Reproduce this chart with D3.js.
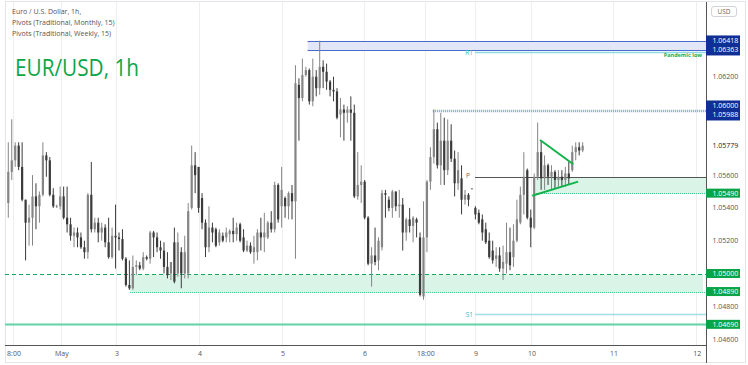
<!DOCTYPE html>
<html><head><meta charset="utf-8">
<script src="https://cdn.jsdelivr.net/npm/d3@7"></script>
<style>body{margin:0;background:#fff}svg{display:block}</style>
</head><body>
<svg id="c" width="748" height="365"></svg>
<script>
const opens=[1.0543,1.0562,1.0569,1.0578,1.0565,1.0545,1.0531,1.0534,1.0547,1.0541,
1.0548,1.0572,1.0569,1.0548,1.0541,1.0541,1.0547,1.0534,1.0530,1.0523,
1.0525,1.0522,1.0516,1.0513,1.0548,1.0527,1.0531,1.0525,1.0528,1.0519,
1.0510,1.0523,1.0522,1.0521,1.0509,1.0493,1.0491,1.0504,1.0505,1.0503,
1.0510,1.0509,1.0525,1.0522,1.0516,1.0514,1.0504,1.0500,1.0519,1.0500,
1.0513,1.0500,1.0500,1.0540,1.0566,1.0565,1.0546,1.0531,1.0516,1.0528,
1.0527,1.0519,1.0523,1.0522,1.0524,1.0526,1.0524,1.0530,1.0522,1.0514,
1.0517,1.0513,1.0513,1.0525,1.0522,1.0522,1.0531,1.0527,1.0554,1.0541,
1.0546,1.0541,1.0549,1.0544,1.0615,1.0607,1.0621,1.0624,1.0605,1.0620,
1.0613,1.0626,1.0623,1.0617,1.0612,1.0611,1.0597,1.0600,1.0598,1.0600,
1.0598,1.0547,1.0554,1.0556,1.0534,1.0506,1.0511,1.0508,1.0516,1.0549,
1.0545,1.0540,1.0550,1.0541,1.0542,1.0525,1.0533,1.0529,1.0533,1.0522,
1.0486,1.0522,1.0556,1.0571,1.0588,1.0566,1.0581,1.0563,1.0581,1.0570,
1.0555,1.0558,1.0545,1.0548,1.0552,1.0540,1.0537,1.0533,1.0527,1.0520,
1.0514,1.0509,1.0511,1.0503,1.0506,1.0513,1.0510,1.0520,1.0531,1.0548,
1.0563,1.0534,1.0528,1.0559,1.0574,1.0558,1.0566,1.0559,1.0562,1.0557,
1.0559,1.0557,1.0561,1.0563,1.0574,1.0577,1.0575];
const highs=[1.0580,1.0594,1.0580,1.0580,1.0580,1.0545,1.0542,1.0560,1.0555,1.0550,
1.0580,1.0574,1.0571,1.0552,1.0542,1.0553,1.0553,1.0553,1.0534,1.0528,
1.0528,1.0525,1.0520,1.0549,1.0568,1.0534,1.0534,1.0531,1.0530,1.0534,
1.0528,1.0542,1.0525,1.0527,1.0510,1.0508,1.0511,1.0508,1.0507,1.0513,
1.0511,1.0526,1.0526,1.0525,1.0520,1.0519,1.0513,1.0507,1.0528,1.0525,
1.0516,1.0523,1.0543,1.0578,1.0574,1.0565,1.0549,1.0533,1.0541,1.0531,
1.0528,1.0527,1.0525,1.0528,1.0527,1.0534,1.0531,1.0531,1.0527,1.0520,
1.0519,1.0523,1.0527,1.0534,1.0537,1.0532,1.0538,1.0556,1.0555,1.0565,
1.0547,1.0550,1.0554,1.0627,1.0619,1.0631,1.0626,1.0625,1.0631,1.0624,
1.0642,1.0630,1.0628,1.0618,1.0620,1.0613,1.0607,1.0603,1.0602,1.0608,
1.0603,1.0574,1.0566,1.0557,1.0535,1.0516,1.0528,1.0522,1.0551,1.0551,
1.0547,1.0551,1.0550,1.0551,1.0546,1.0534,1.0540,1.0535,1.0534,1.0525,
1.0544,1.0557,1.0577,1.0600,1.0592,1.0598,1.0595,1.0594,1.0591,1.0575,
1.0574,1.0566,1.0551,1.0549,1.0552,1.0541,1.0539,1.0536,1.0531,1.0525,
1.0520,1.0516,1.0516,1.0517,1.0531,1.0528,1.0530,1.0545,1.0553,1.0574,
1.0564,1.0539,1.0561,1.0592,1.0581,1.0572,1.0567,1.0566,1.0563,1.0563,
1.0563,1.0565,1.0568,1.0578,1.0580,1.0580,1.0580];
const lows=[1.0534,1.0557,1.0565,1.0563,1.0544,1.0508,1.0517,1.0517,1.0527,1.0531,
1.0547,1.0559,1.0547,1.0540,1.0540,1.0539,1.0533,1.0525,1.0520,1.0516,
1.0516,1.0515,1.0509,1.0509,1.0525,1.0525,1.0519,1.0520,1.0516,1.0509,
1.0509,1.0503,1.0514,1.0508,1.0492,1.0490,1.0490,1.0499,1.0502,1.0502,
1.0508,1.0506,1.0510,1.0513,1.0509,1.0500,1.0497,1.0496,1.0494,1.0498,
1.0491,1.0497,1.0497,1.0539,1.0549,1.0537,1.0527,1.0510,1.0513,1.0519,
1.0516,1.0517,1.0519,1.0519,1.0519,1.0519,1.0520,1.0519,1.0513,1.0513,
1.0512,1.0506,1.0508,1.0514,1.0513,1.0521,1.0525,1.0525,1.0531,1.0528,
1.0534,1.0533,1.0533,1.0509,1.0581,1.0605,1.0620,1.0603,1.0602,1.0608,
1.0609,1.0613,1.0612,1.0608,1.0605,1.0594,1.0583,1.0581,1.0592,1.0581,
1.0546,1.0545,1.0543,1.0533,1.0505,1.0492,1.0505,1.0502,1.0514,1.0534,
1.0538,1.0534,1.0538,1.0534,1.0514,1.0520,1.0525,1.0519,1.0522,1.0486,
1.0484,1.0513,1.0551,1.0567,1.0564,1.0554,1.0554,1.0560,1.0568,1.0547,
1.0551,1.0536,1.0542,1.0541,1.0551,1.0533,1.0530,1.0520,1.0518,1.0509,
1.0506,1.0504,1.0501,1.0496,1.0500,1.0502,1.0504,1.0519,1.0530,1.0536,
1.0533,1.0516,1.0527,1.0557,1.0551,1.0551,1.0554,1.0551,1.0552,1.0552,
1.0553,1.0553,1.0554,1.0562,1.0569,1.0572,1.0574];
const closes=[1.0562,1.0569,1.0578,1.0565,1.0545,1.0531,1.0534,1.0547,1.0541,1.0548,
1.0572,1.0569,1.0548,1.0541,1.0541,1.0547,1.0534,1.0530,1.0523,1.0525,
1.0522,1.0516,1.0513,1.0548,1.0527,1.0531,1.0525,1.0528,1.0519,1.0510,
1.0523,1.0522,1.0521,1.0509,1.0493,1.0491,1.0504,1.0505,1.0503,1.0510,
1.0509,1.0525,1.0522,1.0516,1.0514,1.0504,1.0499,1.0507,1.0495,1.0519,
1.0500,1.0513,1.0538,1.0566,1.0560,1.0540,1.0531,1.0516,1.0528,1.0525,
1.0517,1.0525,1.0520,1.0525,1.0526,1.0524,1.0528,1.0520,1.0514,1.0517,
1.0513,1.0516,1.0525,1.0522,1.0525,1.0531,1.0527,1.0554,1.0533,1.0551,
1.0541,1.0549,1.0544,1.0616,1.0607,1.0621,1.0624,1.0605,1.0620,1.0613,
1.0626,1.0623,1.0617,1.0612,1.0611,1.0595,1.0600,1.0598,1.0600,1.0598,
1.0547,1.0554,1.0556,1.0534,1.0506,1.0511,1.0507,1.0520,1.0549,1.0548,
1.0540,1.0550,1.0541,1.0542,1.0525,1.0533,1.0529,1.0534,1.0531,1.0487,
1.0522,1.0556,1.0571,1.0588,1.0566,1.0581,1.0563,1.0581,1.0570,1.0555,
1.0563,1.0545,1.0548,1.0545,1.0552,1.0536,1.0531,1.0525,1.0519,1.0510,
1.0508,1.0511,1.0503,1.0507,1.0513,1.0505,1.0520,1.0533,1.0548,1.0559,
1.0534,1.0528,1.0559,1.0574,1.0558,1.0566,1.0559,1.0562,1.0557,1.0559,
1.0557,1.0561,1.0558,1.0574,1.0577,1.0575,1.05779];

const timeTickIdx=[1.36,15.2,31.1,55.1,79.1,102.8,120.4,134.9,151.1,174.8,198.8];
const timeTickLabels=["8:00","May","3","4","5","6","18:00","9","10","11","12"];
const priceTicks=[1.046,1.048,1.052,1.054,1.056,1.062];

const blueZone=[1.06418,1.06363], blueZoneStart=86.5;
const level1060=[1.06000,1.05988], level1060Start=122.7;
const weekStart=134.9;
const pivotP=1.05587, pivotR1=1.0635, pivotS1=1.04753;
const greenZoneUpper=[1.05587,1.05490], greenZoneUpperStart=152.5;
const greenZoneLower=[1.05000,1.04890], greenZoneLowerStart=35.2;
const level1047=1.04690;
const triUpper=[[153.7,1.05814],[163.3,1.05666]];
const triLower=[[151.4,1.05474],[164.7,1.05560]];
const lastPrice=1.05779;

const svg=d3.select("#c");
const L=5,R=706,T=2,B=345.5;
const x=d3.scaleLinear().domain([-0.95,201.65]).range([L,R]);
const y=d3.scaleLinear().domain([1.046,1.066]).range([339.1,11.1]);
const yc=p=>Math.round(y(p))+0.5;
const fmt=d3.format(".5f");
const FONT="'Open Sans','DejaVu Sans',sans-serif";

svg.append("rect").attr("x",5.5).attr("y",1.5).attr("width",740).attr("height",361).attr("fill","#fff").attr("stroke","#e3e5ea");

// vertical grid
svg.append("g").selectAll("line").data(timeTickIdx).join("line")
 .attr("x1",d=>Math.round(x(d))+0.5).attr("x2",d=>Math.round(x(d))+0.5).attr("y1",T).attr("y2",B)
 .attr("stroke","#eceef2").attr("stroke-width",1);

const plot=svg.append("g");
function hline(p,x0,opts){
 const l=plot.append("line").attr("x1",x0).attr("x2",R).attr("y1",yc(p)).attr("y2",yc(p));
 Object.entries(opts).forEach(([k,v])=>l.attr(k,v));
 return l;
}
// blue zone
plot.append("rect").attr("x",x(blueZoneStart)).attr("width",R-x(blueZoneStart))
 .attr("y",yc(blueZone[0])).attr("height",yc(blueZone[1])-yc(blueZone[0])).attr("fill","#e1e7f6");
blueZone.forEach(p=>hline(p,x(blueZoneStart),{stroke:"#4a6bcb","stroke-width":1}));
// R1
hline(pivotR1,x(weekStart),{stroke:"#8ed9e2","stroke-width":1.5});
plot.append("text").attr("x",x(weekStart)-2).attr("y",y(pivotR1)+2.5).attr("text-anchor","end").attr("font-size",6.5).attr("font-family",FONT).attr("fill","#2bbccc").text("R1");
plot.append("text").attr("x",702).attr("y",y(pivotR1)+4.5).attr("text-anchor","end").attr("font-size",5.5).attr("font-weight","bold").attr("font-family",FONT).attr("fill","#16b04e").text("Pandemic low");
// 1.0600 dotted
level1060.forEach(p=>hline(p,x(level1060Start),{stroke:"#8d9fe2","stroke-width":1.3,"stroke-dasharray":"1,1"}));
// green zones
plot.append("rect").attr("x",x(greenZoneUpperStart)).attr("width",R-x(greenZoneUpperStart))
 .attr("y",yc(greenZoneUpper[0])).attr("height",yc(greenZoneUpper[1])-yc(greenZoneUpper[0])).attr("fill","#daf4e8");
hline(greenZoneUpper[1],x(greenZoneUpperStart),{stroke:"#3cbf85","stroke-dasharray":"1,1"});
plot.append("rect").attr("x",x(greenZoneLowerStart)).attr("width",703-x(greenZoneLowerStart))
 .attr("y",yc(greenZoneLower[0])).attr("height",yc(greenZoneLower[1])-yc(greenZoneLower[0])).attr("fill","#daf4e8");
hline(greenZoneLower[0],L,{stroke:"#14a85e","stroke-width":1.2,"stroke-dasharray":"4,3"});
hline(greenZoneLower[1],x(greenZoneLowerStart),{stroke:"#3cbf85","stroke-dasharray":"1,1"});
// P
hline(pivotP,x(weekStart),{stroke:"#555","stroke-width":1});
plot.append("text").attr("x",x(weekStart)-5).attr("y",y(pivotP)+1).attr("text-anchor","end").attr("font-size",6.5).attr("font-family",FONT).attr("fill","#666").text("P");
// S1
hline(pivotS1,x(weekStart),{stroke:"#9fe0e6","stroke-width":1.5});
plot.append("text").attr("x",x(weekStart)-2).attr("y",y(pivotS1)+2.5).attr("text-anchor","end").attr("font-size",6.5).attr("font-family",FONT).attr("fill","#2bbccc").text("S1");
// 1.0469
hline(level1047,L,{stroke:"#62d3a6","stroke-width":2.2});

// candles
const data=d3.range(opens.length).map(i=>({i,o:opens[i],h:highs[i],l:lows[i],c:closes[i]}));
const cg=plot.append("g");
const col=d=>d.c>=d.o?"#858585":"#3b3b3b";
cg.selectAll("line").data(data).join("line")
 .attr("x1",d=>x(d.i)).attr("x2",d=>x(d.i)).attr("y1",d=>y(d.h)).attr("y2",d=>y(d.l))
 .attr("stroke",col).attr("stroke-width",1);
cg.selectAll("rect").data(data).join("rect")
 .attr("x",d=>x(d.i)-1.1).attr("width",2.2)
 .attr("y",d=>y(Math.max(d.o,d.c))).attr("height",d=>Math.max(0.8,Math.abs(y(d.o)-y(d.c))))
 .attr("fill",col);

// triangle
[triUpper,triLower].forEach(t=>plot.append("line").attr("x1",x(t[0][0])).attr("y1",y(t[0][1])).attr("x2",x(t[1][0])).attr("y2",y(t[1][1])).attr("stroke","#14b24a").attr("stroke-width",2));

// axes lines
svg.append("line").attr("x1",L).attr("x2",R).attr("y1",B).attr("y2",B).attr("stroke","#555");
svg.append("line").attr("x1",R+0.5).attr("x2",R+0.5).attr("y1",T).attr("y2",363).attr("stroke","#555");

// time labels
svg.append("g").selectAll("text").data(timeTickIdx).join("text")
 .attr("x",d=>x(d)+1).attr("y",356).attr("text-anchor","middle").attr("font-size",7).attr("font-family",FONT).attr("fill","#555")
 .text((d,i)=>timeTickLabels[i]);

// price tick labels
svg.append("g").selectAll("text").data(priceTicks).join("text")
 .attr("x",712.5).attr("y",d=>y(d)+2.5).attr("font-size",7).attr("font-family",FONT).attr("fill","#555").text(d=>fmt(d));

// last price label
svg.append("rect").attr("x",707).attr("y",y(lastPrice)-5).attr("width",36).attr("height",10).attr("fill","#fff");
svg.append("text").attr("x",712.5).attr("y",y(lastPrice)+2.5).attr("font-size",7).attr("font-family",FONT).attr("fill","#222").text(fmt(lastPrice));

// navy labels
function navy(pair){
 const ym=(y(pair[0])+y(pair[1]))/2;
 svg.append("rect").attr("x",706).attr("y",ym-10).attr("width",34).attr("height",20).attr("fill","#0f2f96");
 svg.append("text").attr("x",712.5).attr("y",ym-2.5).attr("font-size",7).attr("font-family",FONT).attr("fill","#fff").text(fmt(pair[0]));
 svg.append("text").attr("x",712.5).attr("y",ym+7).attr("font-size",7).attr("font-family",FONT).attr("fill","#fff").text(fmt(pair[1]));
}
navy(blueZone); navy(level1060);
function green(p){
 svg.append("rect").attr("x",706).attr("y",y(p)-4.5).attr("width",34).attr("height",9).attr("fill","#08a448");
 svg.append("text").attr("x",712.5).attr("y",y(p)+2.5).attr("font-size",7).attr("font-family",FONT).attr("fill","#fff").text(fmt(p));
}
[greenZoneUpper[1],greenZoneLower[0],greenZoneLower[1],level1047].forEach(green);

// USD box
svg.append("rect").attr("x",711.5).attr("y",6.5).attr("width",25).attr("height",10).attr("rx",2.5).attr("fill","#fff").attr("stroke","#d0d3da");
svg.append("text").attr("x",724).attr("y",14).attr("text-anchor","middle").attr("font-size",6.5).attr("font-family",FONT).attr("fill","#666").text("USD");

// header
const hdr=["Euro / U.S. Dollar, 1h,","Pivots (Traditional, Monthly, 15)","Pivots (Traditional, Weekly, 15)"];
svg.append("g").selectAll("text").data(hdr).join("text")
 .attr("x",12).attr("y",(d,i)=>14.3+i*10.8).attr("font-size",7).attr("font-family",FONT).attr("fill","#555").text(d=>d);
svg.append("text").attr("x",15).attr("y",76).attr("font-size",24).attr("font-family",FONT).attr("fill","#0aa64a")
 .attr("textLength",124).attr("lengthAdjust","spacingAndGlyphs").text("EUR/USD, 1h");
</script>
</body></html>
